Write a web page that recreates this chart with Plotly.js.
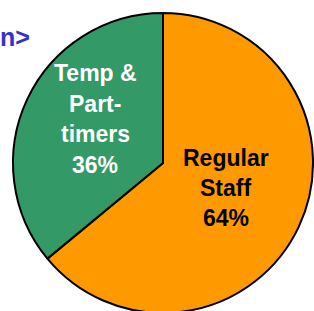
<!DOCTYPE html>
<html><head><meta charset="utf-8">
<script src="https://cdn.plot.ly/plotly-3.0.1.min.js"></script>
<style>html,body{margin:0;padding:0;overflow:hidden;background:#fff}</style>
</head><body><div id="chart"></div>
<script>
const labels = ["Regular Staff", "Temp & Part-timers"];
const labelLines = [["Regular", "Staff"], ["Temp &", "Part-", "timers"]];
const values = [64, 36];
const colors = ["#FF9900", "#339966"];
const textColors = ["#000000", "#FFFFFF"];
const titleText = "n>";

const W = 314, H = 320;
// label block layout (pixel positions from top-left): centre x, first line centre y, line step
const labelPos = [{x: 226, y0: 158, step: 30}, {x: 95, y0: 73, step: 30.7}];

const total = values.reduce((a, b) => a + b, 0);
const annotations = [];
labels.forEach((lab, i) => {
  const lines = labelLines[i].concat([Math.round(values[i] / total * 100) + "%"]);
  lines.forEach((ln, j) => {
    annotations.push({
      text: ln, xref: "paper", yref: "paper",
      x: labelPos[i].x / W, y: (H - (labelPos[i].y0 + j * labelPos[i].step)) / H,
      xanchor: "center", yanchor: "middle", showarrow: false,
      font: {family: "Liberation Sans, Arial, sans-serif", size: 23, weight: "bold", color: textColors[i]}
    });
  });
});
annotations.push({
  text: titleText, xref: "paper", yref: "paper", x: 0, y: (H - 37) / H,
  xanchor: "left", yanchor: "middle", showarrow: false, xshift: -2,
  font: {family: "Liberation Sans, Arial, sans-serif", size: 25, weight: "bold", color: "#3333CC"}
});

const trace = {
  type: "pie",
  labels: labels,
  values: values,
  sort: false,
  direction: "clockwise",
  rotation: 0,
  marker: {colors: colors, line: {color: "#000000", width: 2}},
  textinfo: "none",
  hoverinfo: "none",
  showlegend: false,
  domain: {x: [13 / W, 313 / W], y: [(H - 313) / H, (H - 13) / H]}
};
const layout = {
  width: W, height: H,
  margin: {l: 0, r: 0, t: 0, b: 0},
  paper_bgcolor: "#FFFFFF",
  showlegend: false,
  annotations: annotations
};
Plotly.newPlot("chart", [trace], layout, {staticPlot: true, displayModeBar: false});
</script></body></html>
